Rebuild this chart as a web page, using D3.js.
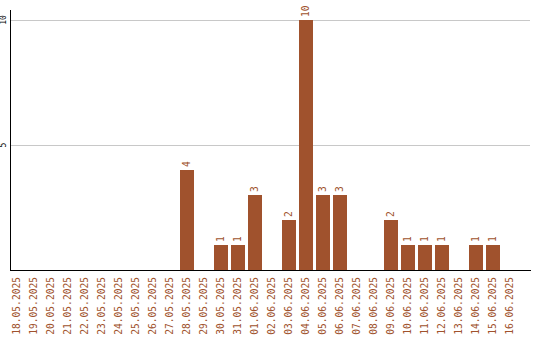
<!DOCTYPE html>
<html>
<head>
<meta charset="utf-8">
<script src="https://cdn.jsdelivr.net/npm/d3@7"></script>
<style>
  body { margin: 0; background: #fff; }
  svg { display: block; }
  text { font-family: "DejaVu Sans Mono", monospace; }
</style>
</head>
<body>
<svg id="chart"></svg>
<script>
// Dates on the x axis
var days = [
  "18.05.2025", "19.05.2025", "20.05.2025", "21.05.2025", "22.05.2025",
  "23.05.2025", "24.05.2025", "25.05.2025", "26.05.2025", "27.05.2025",
  "28.05.2025", "29.05.2025", "30.05.2025", "31.05.2025", "01.06.2025",
  "02.06.2025", "03.06.2025", "04.06.2025", "05.06.2025", "06.06.2025",
  "07.06.2025", "08.06.2025", "09.06.2025", "10.06.2025", "11.06.2025",
  "12.06.2025", "13.06.2025", "14.06.2025", "15.06.2025", "16.06.2025"
];

// Count per day
var counts = [
  0, 0, 0, 0, 0, 0, 0, 0, 0, 0,
  4, 0, 1, 1, 3, 0, 2, 10, 3, 3,
  0, 0, 2, 1, 1, 1, 0, 1, 1, 0
];

// Y ticks with gridlines
var yTicks = [5, 10];

var width = 540,
  height = 340,
  brown = "#a0522d";

// Pair each day with its count, keep only days with bars
var barData = days
  .map(function (d, i) { return { day: d, value: counts[i] }; })
  .filter(function (d) { return d.value > 0; });

var svg = d3.select("#chart")
  .attr("width", width)
  .attr("height", height);

var x = d3.scaleBand()
  .domain(days)
  .range([8.5, 518.5])
  .paddingInner(3 / 17)
  .paddingOuter(1.5 / 17);

var y = d3.scaleLinear()
  .domain([0, 10])
  .range([270, 20]);

// Gridlines
svg.selectAll(".grid")
  .data(yTicks)
  .enter()
  .append("line")
  .attr("class", "grid")
  .attr("x1", 11)
  .attr("x2", 530)
  .attr("y1", function (d) { return Math.round(y(d)) + 0.5; })
  .attr("y2", function (d) { return Math.round(y(d)) + 0.5; })
  .attr("stroke", "#c8c8c8")
  .attr("stroke-width", 1);

// Y tick labels, rotated
svg.selectAll(".ytick")
  .data(yTicks)
  .enter()
  .append("text")
  .attr("class", "ytick")
  .attr("transform", function (d) {
    return "translate(3," + y(d) + ") rotate(-90)";
  })
  .attr("dy", ".35em")
  .style("text-anchor", "middle")
  .style("font-size", "8px")
  .attr("fill", "#000")
  .text(function (d) { return d; });

// Bars
svg.selectAll(".bar")
  .data(barData)
  .enter()
  .append("rect")
  .attr("class", "bar")
  .attr("x", function (d) { return x(d.day); })
  .attr("width", x.bandwidth())
  .attr("y", function (d) { return y(d.value); })
  .attr("height", function (d) { return y(0) - y(d.value); })
  .attr("fill", brown);

// Value labels above bars
svg.selectAll(".val")
  .data(barData)
  .enter()
  .append("text")
  .attr("class", "val")
  .attr("transform", function (d) {
    return "translate(" + (x(d.day) + x.bandwidth() / 2) + "," + (y(d.value) - 3) + ") rotate(-90)";
  })
  .attr("dy", ".35em")
  .style("text-anchor", "start")
  .style("font-size", "9.6px")
  .attr("fill", brown)
  .text(function (d) { return d.value; });

// Axis lines
svg.append("line")
  .attr("x1", 10.5).attr("x2", 10.5)
  .attr("y1", 10).attr("y2", 271)
  .attr("stroke", "#000");
svg.append("line")
  .attr("x1", 10).attr("x2", 531)
  .attr("y1", 270.5).attr("y2", 270.5)
  .attr("stroke", "#000");

// Date labels
svg.selectAll(".xlab")
  .data(days)
  .enter()
  .append("text")
  .attr("class", "xlab")
  .attr("transform", function (d) {
    return "translate(" + (x(d) + x.bandwidth() / 2) + ",277) rotate(-90)";
  })
  .attr("dy", ".35em")
  .style("text-anchor", "end")
  .style("font-size", "9.6px")
  .attr("fill", brown)
  .text(function (d) { return d; });
</script>
</body>
</html>
